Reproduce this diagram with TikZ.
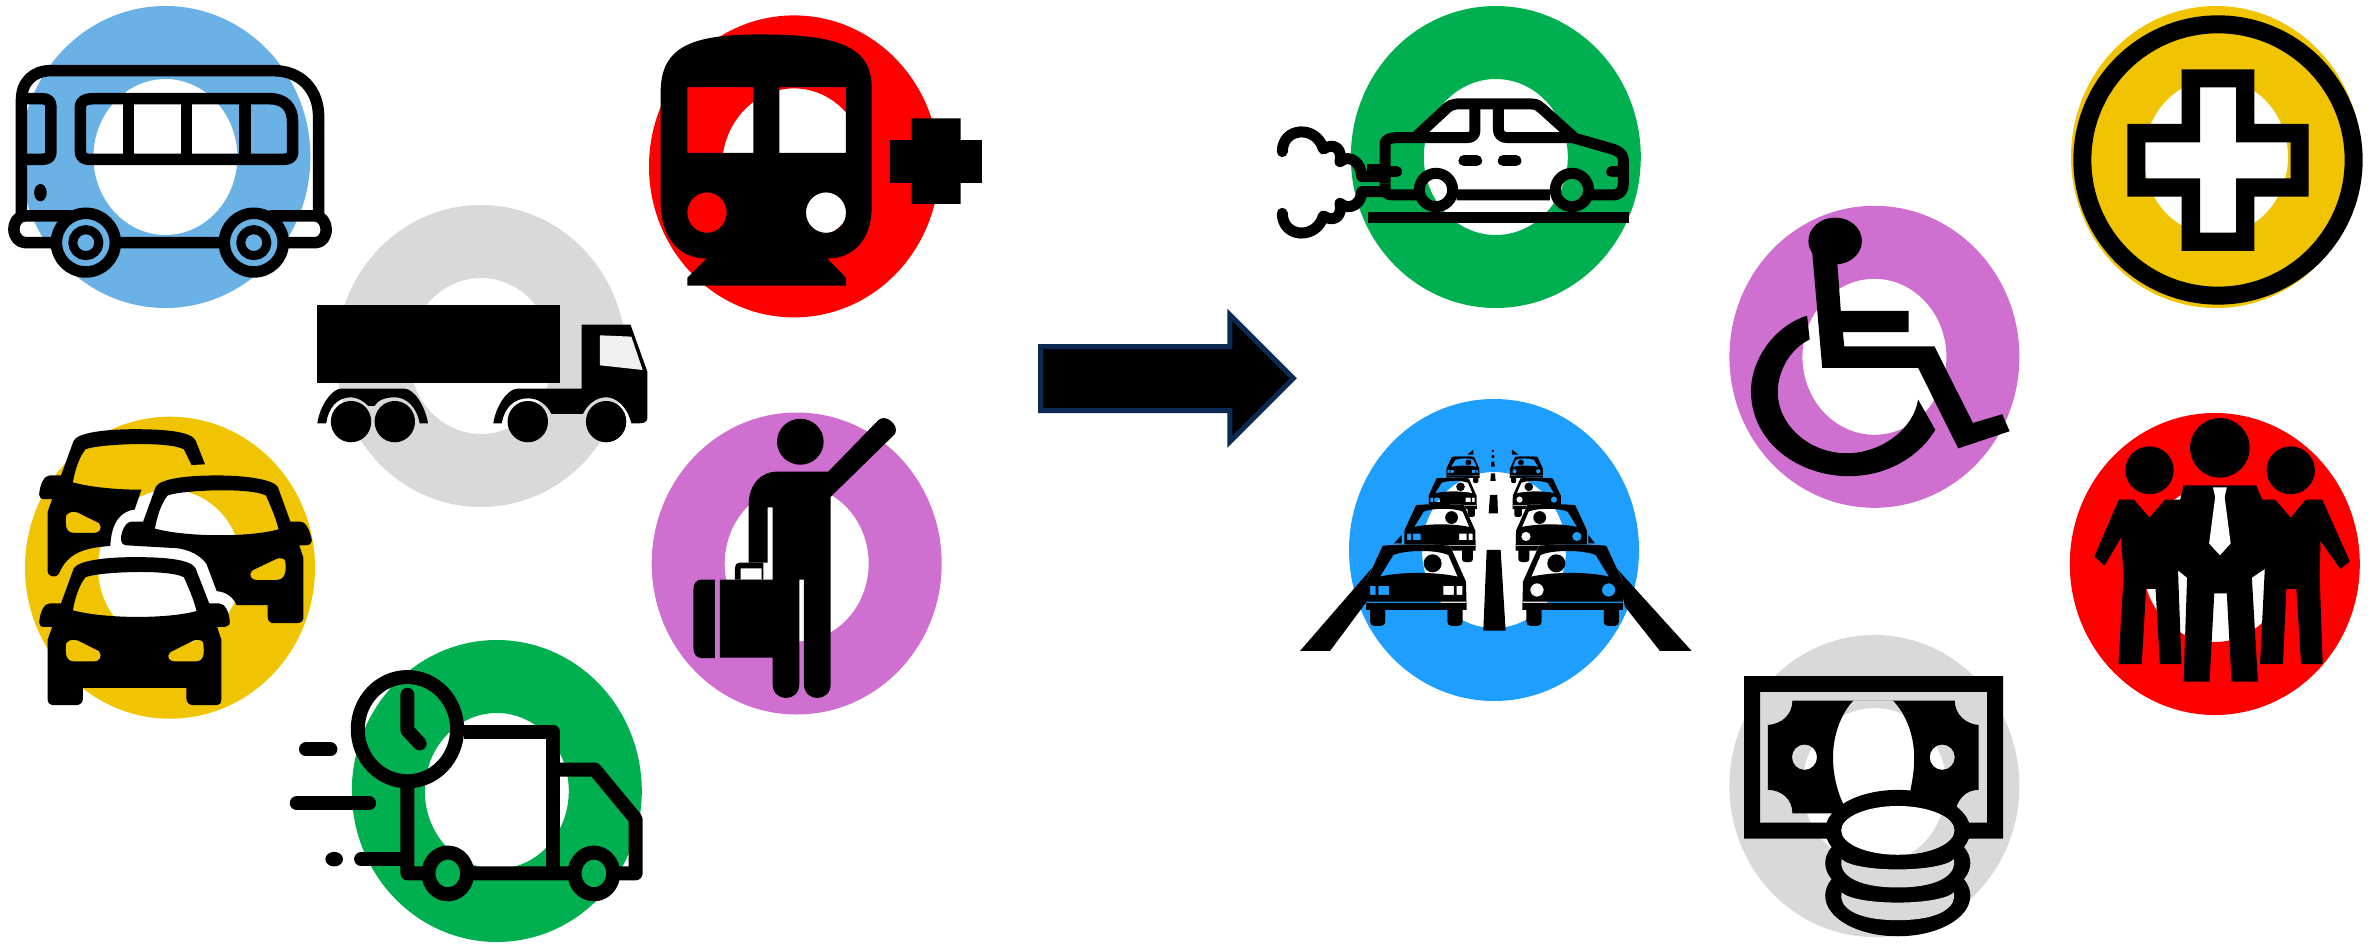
\documentclass[tikz,border=0pt]{standalone}
\definecolor{cbus}{HTML}{6AB2E6}
\definecolor{cgrey}{HTML}{D9D9D9}
\definecolor{cyel}{HTML}{F0C400}
\definecolor{cgrn}{HTML}{00B050}
\definecolor{cred}{HTML}{FF0000}
\definecolor{cpur}{HTML}{CF70D0}
\definecolor{csky}{HTML}{1E9EFF}
\definecolor{cnavy}{HTML}{0B2A52}
\tikzset{
  blk/.style={fill=black,even odd rule},
  ln/.style={draw=black,line width=#1,line join=round},
  ln/.default=11.5pt,
  zA/.style={shift={(0,0)},x=0.4209pt,y=-0.3333pt},
  zB/.style={shift={(0,400)},x=0.4209pt,y=-0.3476pt},
  zC/.style={shift={(620,0)},x=0.3333pt,y=-0.4592pt},
  zD/.style={shift={(1260,0)},x=0.3333pt,y=-0.3333pt},
  zE/.style={shift={(1260,380)},x=0.3333pt,y=-0.3333pt},
  zF/.style={shift={(1700,180)},x=0.4318pt,y=-0.4879pt},
  zG/.style={shift={(2040,0)},x=0.3333pt,y=-0.3333pt}
}
\newcommand\donut[3]{\fill[#1,even odd rule] (#2,#3) ellipse [x radius=145,y radius=151] (#2,#3) ellipse [x radius=72,y radius=78];}
\newcommand\bgrepaint[3]{\pgftransformreset
  \fill[white] (#2pt-400pt,-#3pt-400pt) rectangle (#2pt+400pt,-#3pt+400pt);
  \fill[#1,even odd rule] (#2pt,-#3pt) ellipse [x radius=145pt,y radius=151pt] (#2pt,-#3pt) ellipse [x radius=72pt,y radius=78pt];}
% traffic-jam car
\def\taxisil{(-101,0) .. controls (-40,-5) and (40,-5) .. (101,0) -- (149,108) -- (151,193) -- (139,193) -- (139,228) .. controls (139,236) and (134,241) .. (126,241) -- (106,241) .. controls (98,241) and (93,236) .. (93,228) -- (93,193) -- (-93,193) -- (-93,228) .. controls (-93,236) and (-98,241) .. (-106,241) -- (-126,241) .. controls (-134,241) and (-139,236) .. (-139,228) -- (-139,193) -- (-151,193) -- (-151,108) -- cycle}
\def\taxiwin{(-109,93) -- (-69,28) .. controls (-30,12) and (60,12) .. (96,28) -- (124,93) .. controls (60,78) and (-50,78) .. (-109,93) -- cycle}
\def\lightsL{(-139,121) rectangle (-122,148) (-114,121) rectangle (-82,148) (81,121) rectangle (113,148) (121,121) rectangle (138,148)}
\def\lightsR{(-108,133) ellipse [x radius=20,y radius=20] (107,133) ellipse [x radius=20,y radius=20]}
\newcommand\taxi[5]{%
  \begin{scope}[shift={(#1,#2)},xscale=#3,yscale=#4]
    \begin{scope}\clip \taxisil; \bgrepaint{csky}{1494}{550}\end{scope}
    \fill[blk] \taxisil \taxiwin #5 (-151,168) rectangle (151,172);
    \fill[black] (49,53) ellipse [x radius=27,y radius=27];
  \end{scope}}
% yellow car parts
\def\carA{(145,585) -- (175,485) .. controls (185,462) and (250,452) .. (320,452) .. controls (400,452) and (455,460) .. (465,485) -- (497,585) -- (520,585) .. controls (535,585) and (545,610) .. (546,640) .. controls (546,648) and (538,653) .. (530,653) -- (516,653) -- (526,690) -- (526,860) .. controls (526,870) and (522,878) .. (516,878) -- (460,878) .. controls (450,878) and (443,870) .. (443,860) -- (443,828) -- (197,828) -- (197,860) .. controls (197,870) and (190,878) .. (180,878) -- (125,878) .. controls (118,878) and (113,870) .. (113,860) -- (113,690) -- (124,653) -- (105,653) .. controls (97,653) and (93,648) .. (93,640) .. controls (95,610) and (105,585) .. (118,585) -- cycle}
\begin{document}
\begin{tikzpicture}[x=1pt,y=-1pt]
\useasboundingbox (0,0) rectangle (2377,945);
\fill[white] (0,0) rectangle (2377,945);
% donuts
\donut{cbus}{165.4}{157}
\donut{cgrey}{481}{356}
\donut{cyel}{170}{567.7}
\donut{cgrn}{496.8}{791}
\donut{cred}{794}{166.4}
\donut{cpur}{796.7}{563.5}
\donut{cgrn}{1495.8}{157}
\donut{csky}{1494}{550}
\donut{cpur}{1874.4}{356.8}
\donut{cgrey}{1874.4}{786}
\donut{cred}{2214.8}{564}
\donut{cyel}{2216}{157}

% ---------- bus and lorry
\begin{scope}[zA]
  \draw[ln] (51,650) -- (51,300) .. controls (51,245) and (80,212) .. (120,212) -- (650,212) .. controls (715,212) and (757,270) .. (757,350) -- (757,650);
  \draw[ln] (170,648) -- (60,648) .. controls (40,648) and (33,670) .. (33,688) .. controls (33,710) and (45,728) .. (60,728) -- (750,728) .. controls (765,728) and (775,710) .. (775,688) .. controls (775,670) and (765,648) .. (750,648) -- (640,648);
  \draw[ln] (225,296) -- (640,296) .. controls (675,296) and (695,320) .. (695,365) -- (695,460) .. controls (695,472) and (685,478) .. (675,478) -- (210,478) .. controls (198,478) and (191,468) .. (191,455) -- (191,320) .. controls (191,305) and (200,296) .. (225,296) -- cycle;
  \draw[ln] (305,296) -- (305,478) (443,296) -- (443,478) (582,296) -- (582,478);
  \draw[ln] (51,296) -- (100,296) .. controls (115,296) and (121,305) .. (121,320) -- (121,455) .. controls (121,470) and (115,478) .. (100,478) -- (51,478);
  \fill[black] (96,578) ellipse [x radius=15,y radius=26];
  \foreach \wx in {204,603}{
    \draw[ln,fill=cbus] (\wx,728) ellipse [x radius=70,y radius=88];
    \draw[ln=9pt,fill=cbus] (\wx,728) ellipse [x radius=31,y radius=39];
    \fill[cbus] (\wx,728) ellipse [x radius=11,y radius=14];
  }
  % lorry
  \fill[black] (754,916) rectangle (1330,1148);
  \fill[blk] (1382,974) -- (1498,974) -- (1538,1115) -- (1538,1255) .. controls (1538,1265) and (1530,1270) .. (1520,1270) -- (1500,1270) .. controls (1490,1220) and (1465,1192) .. (1440,1192) .. controls (1415,1192) and (1395,1215) .. (1385,1242) -- (1310,1242) .. controls (1300,1215) and (1280,1195) .. (1254,1195) .. controls (1220,1195) and (1198,1225) .. (1192,1270) -- (1172,1270) .. controls (1178,1220) and (1205,1166) .. (1230,1166) -- (1382,1166) -- cycle;
  \fill[white!94!black] (1425,1006) -- (1500,1010) -- (1527,1110) -- (1425,1096) -- cycle;
  \fill[black] (754,1270) .. controls (760,1215) and (790,1166) .. (810,1166) -- (960,1166) .. controls (985,1166) and (1010,1220) .. (1017,1270) -- (997,1270) .. controls (990,1220) and (965,1192) .. (938,1192) .. controls (910,1192) and (895,1205) .. (890,1218) -- (875,1218) .. controls (865,1205) and (850,1192) .. (834,1192) .. controls (800,1192) and (780,1225) .. (775,1270) -- cycle;
  \foreach \wx in {834,938,1254,1440}
    \fill[black] (\wx,1265) ellipse [x radius=48,y radius=62];
\end{scope}

% ---------- yellow cars
\begin{scope}[zB]
  % back car
  \fill[blk] (113,322) -- (124,285) -- (105,285) .. controls (97,285) and (93,280) .. (93,272) .. controls (95,242) and (105,217) .. (118,217) -- (145,217) -- (175,117) .. controls (185,94) and (250,84) .. (320,84) .. controls (400,84) and (455,92) .. (465,117) -- (487,185) -- (455,187) -- (437,142) .. controls (400,117) and (230,127) .. (203,142) .. controls (190,162) and (180,192) .. (173,237) .. controls (220,252) and (280,258) .. (336,258) -- (320,315) .. controls (290,320) and (265,345) .. (262,420) .. controls (200,425) and (160,440) .. (140,500) .. controls (135,512) and (113,512) .. (113,490) -- cycle
    (157,332) .. controls (165,320) and (175,320) .. (185,324) -- (235,354) .. controls (245,372) and (235,382) .. (225,382) -- (175,382) .. controls (155,382) and (155,357) .. (157,332) -- cycle;
  % right car
  \fill[blk] (288,405) .. controls (285,390) and (295,350) .. (313,350) -- (340,350) -- (370,250) .. controls (380,227) and (440,217) .. (515,217) .. controls (590,217) and (650,230) .. (660,250) -- (690,350) -- (713,350) .. controls (730,350) and (738,385) .. (741,405) .. controls (741,413) and (735,418) .. (725,418) -- (711,418) -- (721,455) -- (721,625) .. controls (721,635) and (715,642) .. (705,642) -- (650,642) .. controls (642,642) and (636,635) .. (636,625) -- (636,590) -- (562,590) .. controls (555,570) and (540,552) .. (515,550) -- (490,470) .. controls (470,440) and (440,425) .. (400,425) -- (300,418) .. controls (292,416) and (288,412) .. (288,405) -- cycle
    (368,370) .. controls (375,325) and (385,295) .. (398,275) .. controls (425,260) and (595,250) .. (632,275) .. controls (650,325) and (655,340) .. (662,372) .. controls (595,395) and (445,395) .. (368,370) -- cycle
    (678,465) .. controls (678,455) and (665,452) .. (655,458) -- (600,490) .. controls (588,505) and (598,518) .. (610,518) -- (655,518) .. controls (680,518) and (680,490) .. (678,465) -- cycle;
  % front car
  \fill[blk] \carA
    (173,605) .. controls (180,560) and (190,530) .. (203,510) .. controls (230,495) and (400,485) .. (437,510) .. controls (455,560) and (460,575) .. (467,607) .. controls (400,630) and (250,630) .. (173,605) -- cycle
    (157,700) .. controls (165,688) and (175,688) .. (185,692) -- (235,722) .. controls (245,740) and (235,752) .. (225,752) -- (175,752) .. controls (155,752) and (155,725) .. (157,700) -- cycle
    (483,700) .. controls (483,690) and (470,688) .. (460,692) -- (405,725) .. controls (393,740) and (403,752) .. (415,752) -- (465,752) .. controls (487,752) and (485,725) .. (483,700) -- cycle;
\end{scope}

% ---------- delivery truck
\begin{scope}[zB]
  \draw[ln=14pt] (968,947) ellipse [x radius=118,y radius=150];
  \draw[ln=14pt,line cap=round] (968,848) -- (968,950) -- (997,988);
  \draw[ln=14pt] (1102,955) -- (1315,955) -- (1315,1362);
  \draw[ln=14pt] (968,1110) -- (968,1362) -- (1510,1362) -- (1510,1205) -- (1413,1063) -- (1325,1063);
  \foreach \wx in {1064,1411}{
    \draw[ln=14pt,fill=cgrn] (\wx,1362) ellipse [x radius=46,y radius=60];
  }
  \draw[ln=14pt,line cap=round] (727,1005) -- (785,1005) (705,1160) -- (877,1160) (858,1321) -- (960,1321);
  \fill[black] (794,1321) ellipse [x radius=21,y radius=21];
\end{scope}

% ---------- red train and plus
\begin{scope}[zC]
  \fill[blk] (122,200) .. controls (122,100) and (220,75) .. (420,75) .. controls (650,75) and (755,100) .. (755,190) -- (755,450) .. controls (755,530) and (690,563) .. (622,563) -- (678,605) -- (678,622) -- (202,622) -- (202,605) -- (260,563) .. controls (180,563) and (122,520) .. (122,440) -- cycle
    (202,190) rectangle (400,333) (478,190) rectangle (678,333)
    (261,463) ellipse [x radius=59,y radius=44] (618,463) ellipse [x radius=60,y radius=44];
  \fill[black] (810,305) -- (875,305) -- (875,258) -- (1022,258) -- (1022,305) -- (1086,305) -- (1086,398) -- (1022,398) -- (1022,444) -- (875,444) -- (875,398) -- (810,398) -- cycle;
  % hailing traveller
  \fill[black] (541,962) ellipse [x radius=70,y radius=50];
  \fill[black] (386,1100) .. controls (386,1050) and (430,1027) .. (470,1027) -- (625,1027) -- (775,915) .. controls (795,900) and (840,925) .. (825,945) -- (632,1082) -- (632,1490) .. controls (632,1530) and (552,1530) .. (552,1490) -- (552,1262) -- (538,1262) -- (538,1490) .. controls (538,1530) and (458,1530) .. (458,1490) -- (458,1432) -- (300,1432) -- (300,1262) -- (458,1262) -- (458,1105) -- (443,1105) -- (443,1225) -- (386,1225) -- cycle;
  \fill[blk] (345,1262) -- (345,1240) .. controls (345,1230) and (350,1225) .. (358,1225) -- (430,1225) -- (430,1262) -- cycle (362,1238) rectangle (425,1262);
  \fill[black] (220,1285) .. controls (220,1270) and (230,1262) .. (245,1262) -- (285,1262) -- (285,1433) -- (245,1433) .. controls (230,1433) and (220,1425) .. (220,1410) -- cycle;
\end{scope}

% ---------- arrow
\begin{scope}[shift={(1020,290)},x=0.3333pt,y=-0.3333pt]
  \draw[draw=cnavy,fill=black,line width=5pt,miter limit=10] (62,170) -- (630,170) -- (630,75) -- (820,265) -- (630,455) -- (630,362) -- (62,362) -- cycle;
\end{scope}

% ---------- polluting car
\begin{scope}[zD]
  \fill[black] (323,636) rectangle (1107,670);
  \draw[ln=11pt] (375,550) -- (375,430) .. controls (375,420) and (390,413) .. (410,413) -- (465,413) -- (560,325) .. controls (570,316) and (580,312) .. (590,312) -- (815,312) .. controls (830,312) and (838,318) .. (845,325) -- (945,415) -- (1060,448) .. controls (1080,455) and (1090,465) .. (1090,480) -- (1090,550) .. controls (1090,572) and (1080,585) .. (1060,585) -- (995,585);
  \draw[ln=11pt] (870,585) -- (590,585) (470,585) -- (395,585) .. controls (383,585) and (375,578) .. (375,565) -- (375,550);
  \draw[ln=11pt] (465,413) -- (620,413) .. controls (637,413) and (645,405) .. (645,390) -- (645,312);
  \draw[ln=11pt] (715,312) -- (715,385) .. controls (715,405) and (725,413) .. (745,413) -- (945,413);
  \draw[ln=11pt] (528,570) circle [radius=50] (936,570) circle [radius=50];
  \draw[ln=11pt,line cap=round] (612,482) -- (650,482) (730,482) -- (768,482) (390,515) -- (410,515) (1090,515) -- (1055,515);
  \draw[ln=11pt,line cap=round] (67,455) .. controls (67,380) and (170,375) .. (190,447) .. controls (225,425) and (248,450) .. (240,485) .. controls (270,460) and (305,490) .. (305,530) -- (370,530);
  \draw[ln=11pt,line cap=round] (67,640) .. controls (67,715) and (170,720) .. (190,648) .. controls (225,670) and (248,645) .. (240,610) .. controls (270,635) and (305,610) .. (305,575) -- (375,575);
  \draw[ln=11pt] (322,510) -- (375,510);
\end{scope}

% ---------- traffic jam
\begin{scope}[zE]
  \fill[black] (120,813) -- (335,565) -- (320,665) -- (210,813) -- cycle;
  \fill[black] (1295,813) -- (1070,565) -- (1095,680) -- (1200,813) -- cycle;
  \fill[black] (680,510) -- (722,510) -- (737,752) -- (670,752) -- cycle
     (690,345) -- (712,345) -- (714,400) -- (686,400) -- cycle
     (693,280) -- (705,280) -- (707,303) -- (691,303) -- cycle
     (694,245) -- (703,245) -- (704,260) -- (693,260) -- cycle
     (695,225) -- (702,225) -- (703,234) -- (695,234) -- cycle
     (696,210) -- (701,210) -- (702,216) -- (696,216) -- cycle
     (622,224) -- (640,209) -- (640,224) -- cycle
     (776,224) -- (756,209) -- (756,224) -- cycle
     (402,490) -- (425,465) -- (425,490) -- cycle
     (1005,490) -- (985,465) -- (985,490) -- cycle;
  \taxi{609}{230}{0.33}{0.33}{\lightsL}
  \taxi{799}{230}{-0.33}{0.33}{\lightsR}
  \taxi{578}{295}{0.48}{0.48}{\lightsL}
  \taxi{830}{295}{-0.48}{0.48}{\lightsR}
  \taxi{540}{375}{0.71}{0.71}{\lightsL}
  \taxi{874}{375}{-0.71}{0.71}{\lightsR}
  \taxi{469}{497}{1}{1}{\lightsL}
  \taxi{938}{497}{-1}{1}{\lightsR}
\end{scope}

% ---------- wheelchair, money, people
\begin{scope}[zF]
  \fill[black] (313,125) ellipse [x radius=62,y radius=48];
  \fill[black] (260,150) -- (283,385) -- (505,385) -- (598,550) -- (717,515) -- (700,480) -- (632,498) -- (543,341) -- (334,341) -- (331,312) -- (483,312) -- (483,268) -- (326,268) -- (318,170) -- cycle;
  \fill[black] (248,278) .. controls (170,300) and (117,370) .. (118,435) .. controls (120,540) and (230,607) .. (345,607) .. controls (430,607) and (505,570) .. (545,512) -- (505,450) .. controls (495,510) and (420,560) .. (340,560) .. controls (250,560) and (180,500) .. (180,435) .. controls (180,390) and (210,345) .. (254,327) -- cycle;
  % banknote
  \fill[blk] (102,1017) rectangle (702,1350) (139,1049) rectangle (665,1317);
  \fill[blk] (157,1117) .. controls (190,1115) and (214,1095) .. (214,1067) -- (590,1067) .. controls (590,1095) and (615,1115) .. (645,1117) -- (645,1250) .. controls (615,1250) and (595,1270) .. (590,1298) -- (214,1298) .. controls (214,1270) and (190,1250) .. (157,1250) -- cycle
    (355,1067) .. controls (325,1095) and (308,1140) .. (308,1183) .. controls (308,1220) and (318,1255) .. (335,1285) -- (485,1260) .. controls (495,1220) and (496,1200) .. (496,1183) .. controls (496,1140) and (478,1095) .. (447,1067) -- cycle
    (242,1183) ellipse [x radius=29,y radius=26] (561,1183) ellipse [x radius=29,y radius=26];
  % coins
  \fill[black] (458,1467) ellipse [x radius=168,y radius=83] (458,1400) ellipse [x radius=168,y radius=80] (458,1333) ellipse [x radius=168,y radius=83];
  \begin{scope}\clip (458,1333) ellipse [x radius=131,y radius=50]; \bgrepaint{cgrey}{1874.4}{786}\end{scope}
  \fill[cgrey] (328,1392) .. controls (360,1420) and (555,1420) .. (588,1392) .. controls (595,1420) and (560,1450) .. (458,1450) .. controls (355,1450) and (320,1420) .. (328,1392) -- cycle;
  \fill[cgrey] (328,1460) .. controls (360,1488) and (555,1488) .. (588,1460) .. controls (595,1488) and (560,1517) .. (458,1517) .. controls (355,1517) and (320,1488) .. (328,1460) -- cycle;
  % people
  \fill[black] (1204,549) ellipse [x radius=69,y radius=61] (1041,595) ellipse [x radius=56,y radius=49] (1368,595) ellipse [x radius=56,y radius=49];
  \fill[black] (970,655) -- (1005,655) -- (1041,692) -- (1077,655) -- (1112,655) -- (1120,626) -- (1288,626) -- (1302,655) -- (1332,655) -- (1368,692) -- (1403,655) -- (1441,655) -- (1505,782) -- (1483,797) -- (1437,740) -- (1435,812) -- (1442,992) -- (1392,992) -- (1381,838) -- (1358,838) -- (1350,992) -- (1297,992) -- (1308,797) -- (1278,815) -- (1292,1028) -- (1231,1028) -- (1220,847) -- (1191,847) -- (1180,1028) -- (1120,1028) -- (1128,815) -- (1107,800) -- (1115,992) -- (1065,992) -- (1055,838) -- (1033,838) -- (1023,992) -- (969,992) -- (981,812) -- (975,733) -- (937,790) -- (913,772) -- cycle;
  \fill[white] (1188,630) -- (1220,630) -- (1215,650) -- (1229,745) -- (1204,769) -- (1179,745) -- (1193,650) -- cycle;
\end{scope}

% ---------- medical cross
\begin{scope}[zG]
  \draw[ln=18pt] (534,480) ellipse [x radius=407,y radius=407];
  \fill[blk] (425,208) -- (643,208) -- (643,372) -- (806,372) -- (806,590) -- (643,590) -- (643,753) -- (425,753) -- (425,590) -- (262,590) -- (262,372) -- (425,372) -- cycle
    (480,262) -- (588,262) -- (588,427) -- (752,427) -- (752,535) -- (588,535) -- (588,698) -- (480,698) -- (480,535) -- (316,535) -- (316,427) -- (480,427) -- cycle;
\end{scope}
\end{tikzpicture}
\end{document}
